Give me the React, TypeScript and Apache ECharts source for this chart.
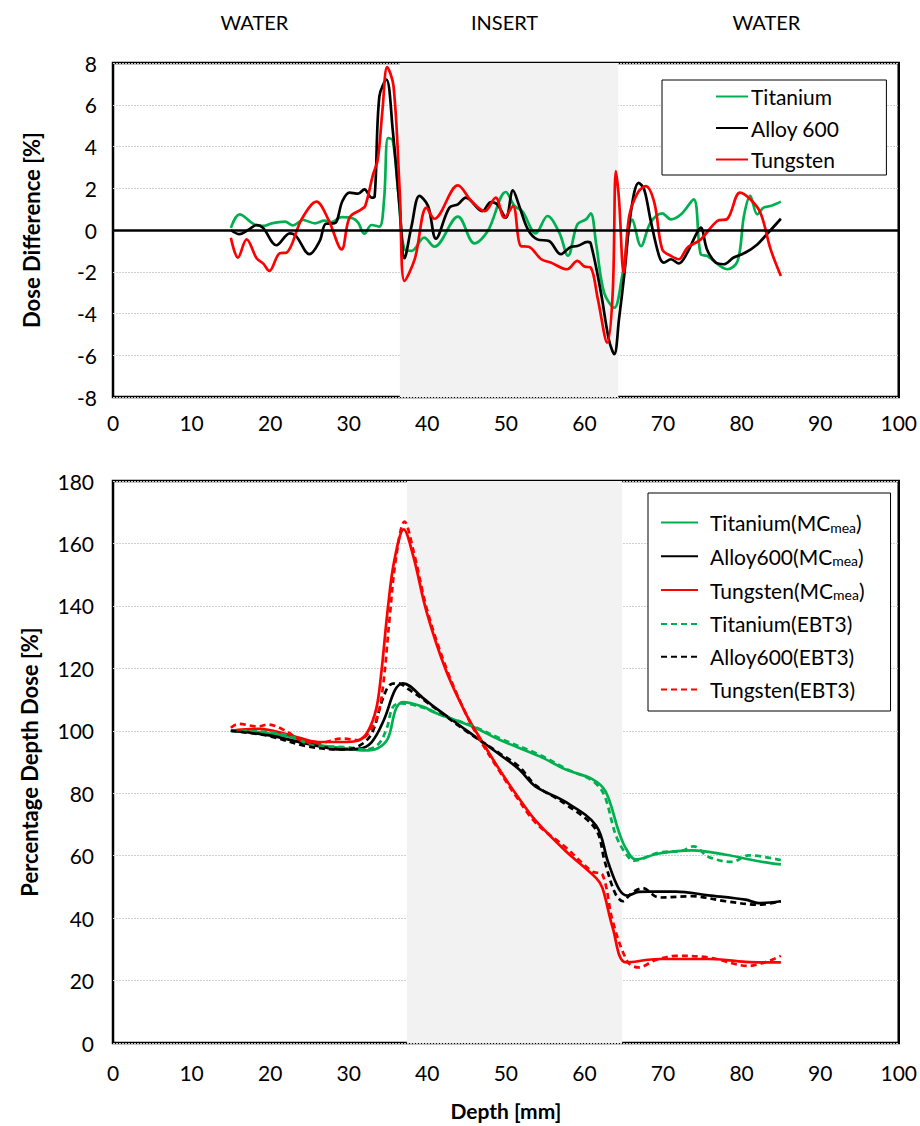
import React, { useEffect, useRef } from "react";
import * as echarts from "echarts";

// ---------- Data (depth mm, value) ----------
const xTicks = [0, 10, 20, 30, 40, 50, 60, 70, 80, 90, 100];
const regionLabels = ["WATER", "INSERT", "WATER"];
const insertTop = [36.5, 64.3];
const insertBottom = [37.4, 64.8];

const titaniumDiff = [
  [15.0, 0.1], [16.1, 0.75], [18.0, 0.27], [19.3, 0.2], [20.2, 0.32], [21.9, 0.4], [22.9, 0.22],
  [24.2, 0.48], [25.7, 0.32], [26.9, 0.45], [27.8, 0.38], [29.1, 0.62], [30.5, 0.56], [31.2, 0.35],
  [32.0, -0.18], [32.9, 0.24], [33.9, 0.16], [34.5, 1.47], [35.0, 4.4], [35.6, 4.3], [36.3, 1.8],
  [37.1, -0.93], [38.0, -1.0], [39.6, -0.37], [40.9, -0.8], [43.9, 0.64], [46.0, -0.64], [47.7, -0.05],
  [50.0, 1.82], [51.1, 1.15], [52.1, 0.9], [53.8, -0.16], [55.3, 0.67], [56.8, -0.13], [57.9, -1.24],
  [59.1, 0.27], [60.2, 0.51], [60.8, 0.8], [61.5, -0.69], [62.5, -3.0], [63.8, -3.72], [64.8, -2.2],
  [66.1, 0.5], [67.2, -0.77], [68.4, 0.35], [69.9, 0.8], [71.0, 0.51], [72.3, 0.75], [73.9, 1.47],
  [74.8, -1.16], [75.6, -1.24], [78.2, -1.88], [79.5, -1.48], [80.3, 0.67], [81.1, 1.63], [82.0, 0.75],
  [82.8, 1.07], [83.7, 1.15], [85.0, 1.36]
];
const alloyDiff = [
  [15.0, 0], [16.1, -0.2], [17.2, 0], [18.3, 0.24], [19.1, 0.1], [20.8, -0.73], [22.5, -0.16],
  [23.3, -0.29], [25.0, -1.16], [26.3, -0.53], [27.1, 0.3], [28.2, 0.32], [29.2, 1.39], [30.1, 1.79],
  [31.2, 1.74], [32.0, 1.95], [32.9, 1.55], [33.3, 1.6], [33.9, 6.4], [34.8, 7.2], [35.6, 4.8],
  [36.5, 1.0], [37.1, -1.35], [38.0, 0.19], [39.0, 1.63], [40.1, 1.15], [41.1, -0.41], [42.8, 1.07],
  [43.9, 1.23], [44.9, 1.55], [47.0, 0.9], [48.1, 1.34], [48.9, 1.23], [50.0, 0.59], [50.9, 1.9],
  [51.7, 1.15], [52.8, 0.03], [54.0, -0.45], [55.5, -0.53], [57.0, -1.16], [58.3, -0.8], [59.1, -0.77],
  [60.4, -0.57], [60.8, -0.64], [62.1, -3.0], [63.1, -5.23], [63.8, -5.95], [64.4, -4.27], [65.1, -2.04],
  [65.9, 0.83], [66.9, 2.26], [67.6, 1.95], [68.4, 0.51], [69.5, -1.24], [70.1, -1.56], [71.0, -1.4],
  [72.0, -1.6], [73.1, -1.08], [74.1, -0.29], [74.8, 0.11], [75.6, -0.93], [76.7, -1.56], [77.7, -1.64],
  [79.0, -1.32], [80.5, -1.08], [82.0, -0.69], [83.2, -0.21], [85.0, 0.54]
];
const tungstenDiff = [
  [15.0, -0.37], [15.9, -1.32], [17.0, -0.45], [18.3, -1.37], [19.1, -1.6], [19.9, -1.96], [21.2, -1.12],
  [22.1, -1.08], [24.0, 0.51], [25.9, 1.36], [27.4, 0.51], [29.1, -0.93], [30.1, 0.59], [31.6, 0.99],
  [32.1, 1.15], [33.1, 2.66], [33.7, 3.38], [34.3, 5.77], [34.9, 7.8], [35.7, 6.9], [36.5, 1.79],
  [37.1, -2.44], [38.4, -1.4], [39.9, 1.07], [40.9, 0.54], [43.9, 2.14], [45.6, 1.39], [47.3, 0.9],
  [48.7, 1.55], [49.8, 0.59], [50.9, 1.15], [51.9, -0.77], [52.9, -0.8], [54.5, -1.4], [55.7, -1.56],
  [57.8, -1.88], [59.1, -1.48], [60.0, -1.75], [60.8, -1.8], [61.7, -3.3], [62.9, -5.4], [63.6, -3.0],
  [64.0, 2.82], [64.4, 1.47], [65.0, -2.04], [65.7, 0.67], [66.8, 1.79], [67.8, 2.1], [68.9, 1.3],
  [69.9, -0.93], [71.0, -1.24], [72.0, -1.4], [73.1, -0.85], [74.8, -0.45], [76.9, 0.43], [78.2, 0.54],
  [79.8, 1.79], [81.1, 1.47], [82.4, 0.83], [83.7, -0.93], [85.0, -2.2]
];

const titaniumMC = [
  [15, 100], [18.5, 99.5], [22.3, 98.2], [26.1, 95.5], [29.5, 94.4], [32.0, 93.7], [33.7, 94.4],
  [35.0, 97.6], [36.0, 107.0], [36.9, 109.2], [39.6, 107.6], [40.7, 106.1], [45.8, 101.3], [49.2, 97.1],
  [54.3, 91.8], [57.7, 87.5], [61.0, 84.5], [62.7, 80.5], [64.4, 67.5], [65.3, 62.2], [66.5, 58.8],
  [69.5, 60.7], [73.7, 61.7], [78.0, 60.3], [82.2, 58.2], [85.0, 57.2]
];
const titaniumEBT3 = [
  [15, 100], [18.5, 99.8], [22.3, 98.5], [26.1, 95.0], [29.5, 94.8], [32.0, 94.0], [33.7, 95.5],
  [34.8, 100.5], [35.6, 107.5], [36.6, 108.8], [39.6, 107.3], [42.0, 104.8], [45.8, 101.5], [49.2, 97.6],
  [54.3, 92.3], [57.7, 87.8], [61.0, 84.0], [62.5, 79.5], [64.0, 66.5], [65.3, 60.5], [66.3, 58.4],
  [69.5, 61.0], [72.3, 61.5], [73.9, 63.0], [75.8, 59.6], [78.8, 58.0], [80.9, 60.1], [85.0, 58.6]
];
const alloyMC = [
  [15, 100], [19.7, 98.6], [24.8, 95.8], [29.1, 94.0], [31.2, 94.2], [32.9, 96.3], [34.5, 103.6],
  [35.9, 113.1], [36.9, 115.2], [39.6, 110.2], [40.7, 108.0], [44.9, 100.3], [49.2, 92.4], [51.7, 87.6],
  [53.8, 82.1], [57.6, 77.2], [61.5, 69.6], [63.0, 58.0], [64.4, 49.3], [65.5, 47.2], [66.9, 48.4],
  [68.2, 48.5], [71.6, 48.5], [75.8, 47.3], [80.5, 45.9], [82.2, 44.8], [85.0, 45.4]
];
const alloyEBT3 = [
  [15, 100], [19.7, 98.4], [24.8, 95.0], [29.1, 94.0], [31.2, 95.0], [32.9, 99.0], [34.3, 110.0],
  [35.3, 114.8], [36.3, 115.2], [37.5, 113.5], [39.6, 109.8], [44.9, 100.0], [49.2, 92.8], [51.7, 88.5],
  [53.8, 82.5], [57.6, 76.5], [61.4, 68.6], [62.6, 58.0], [63.9, 48.0], [64.9, 45.4], [66.0, 48.0],
  [67.4, 49.6], [69.5, 46.6], [73.7, 47.0], [78.0, 45.4], [82.2, 44.3], [85.0, 45.4]
];
const tungstenMC = [
  [15, 100], [18.5, 100.6], [22.7, 98.5], [26.1, 96.4], [29.1, 96.4], [31.2, 96.9], [32.4, 99.6],
  [33.5, 107], [34.1, 117.5], [35.0, 139.7], [35.8, 154.5], [37.0, 164.5], [38.2, 156.1], [39.9, 138.2],
  [42.4, 119.2], [44.9, 105.5], [46.6, 98.1], [49.2, 87.5], [51.3, 79.7], [53.8, 71.2], [57.6, 61.5],
  [61.5, 52.8], [62.3, 49.6], [63.6, 36.9], [65.3, 25.8], [69.5, 26.9], [75.8, 26.9], [80.5, 26.0],
  [85.0, 25.8]
];
const tungstenEBT3 = [
  [15, 101], [15.9, 102.2], [18.5, 101.4], [19.7, 102], [21.5, 100.6], [24.5, 96.4], [26.1, 96.0],
  [29.1, 97.5], [31.2, 97.0], [32.6, 99.5], [33.7, 105], [34.4, 115], [35.2, 136], [36.0, 155],
  [37.1, 167], [38.3, 157], [40.0, 138.5], [42.5, 119.5], [45.0, 105.0], [46.6, 97.5], [49.2, 87.0],
  [51.3, 79.0], [53.8, 70.5], [57.6, 62.7], [61.0, 54.9], [62.3, 53.9], [63.6, 39.0], [65.5, 26.0],
  [66.9, 24.2], [69.0, 26.5], [71.6, 27.9], [75.8, 27.4], [80.9, 24.7], [85.0, 27.9]
];

const GREEN = "#00b050";
const BLACK = "#000000";
const RED = "#ff0000";
const FONT = "Lato";

export default function App() {
  const ref = useRef<HTMLDivElement>(null);
  useEffect(() => {
    if (!ref.current) return;
    const chart = echarts.init(ref.current, undefined, { renderer: "svg" });
    const axisLabel = (margin: number) => ({ color: "#000", fontSize: 21, fontFamily: FONT, margin });
    const splitLine = { show: true, lineStyle: { color: "#cfcfcf", type: [2, 1] as any, width: 1 } };
    const line = (name: string, data: number[][], color: string, idx: number, dashed = false, extra: any = {}) => ({
      name,
      type: "line",
      xAxisIndex: idx,
      yAxisIndex: idx,
      data,
      smooth: 0.35,
      symbol: "none",
      lineStyle: { color, width: 2.7, type: dashed ? [6, 4] : "solid" },
      itemStyle: { color },
      ...extra,
    });
    const sub = (base: string) => `{p|${base}(MC}{s|mea}{b|)}`;
    const option: any = {
      animation: false,
      textStyle: { fontFamily: FONT },
      grid: [
        { left: 113, top: 63, width: 787, height: 334, show: true, borderColor: "#000", borderWidth: 2.5, backgroundColor: "transparent" },
        { left: 113, top: 481, width: 787, height: 569, show: true, borderColor: "#000", borderWidth: 2.5, backgroundColor: "transparent" },
      ],
      xAxis: [0, 1].map((i) => ({
        type: "value",
        gridIndex: i,
        min: 0,
        max: 100,
        interval: 10,
        axisLine: { show: false },
        axisTick: { show: false },
        splitLine: { show: false },
        axisLabel: axisLabel(i === 0 ? 15 : 19),
        name: i === 1 ? "Depth [mm]" : "",
        nameLocation: "middle",
        nameGap: 57,
        nameTextStyle: { color: "#000", fontSize: 21, fontWeight: "bold", fontFamily: FONT },
      })),
      yAxis: [
        {
          type: "value", gridIndex: 0, min: -8, max: 8, interval: 2,
          axisLine: { show: false }, axisTick: { show: false }, splitLine,
          axisLabel: axisLabel(16),
          name: "Dose Difference [%]", nameLocation: "middle", nameGap: 71,
          nameTextStyle: { color: "#000", fontSize: 22, fontWeight: "bold", fontFamily: FONT },
        },
        {
          type: "value", gridIndex: 1, min: 0, max: 180, interval: 20,
          axisLine: { show: false }, axisTick: { show: false }, splitLine,
          axisLabel: axisLabel(19),
          name: "Percentage Depth Dose [%]", nameLocation: "middle", nameGap: 73,
          nameTextStyle: { color: "#000", fontSize: 22, fontWeight: "bold", fontFamily: FONT },
        },
      ],
      legend: [
        {
          data: ["Titanium", "Alloy 600", "Tungsten"],
          left: 662, top: 80, orient: "vertical",
          backgroundColor: "#fff", borderColor: "#000", borderWidth: 1,
          padding: [6, 47, 5, 53], itemGap: 10.5, itemWidth: 32, itemHeight: 18,
          selectedMode: false,
          itemStyle: { opacity: 0 },
          textStyle: { color: "#000", fontSize: 21, fontFamily: FONT, padding: [0, 0, 0, -2] },
        },
        {
          data: ["Titanium(MCmea)", "Alloy600(MCmea)", "Tungsten(MCmea)", "Titanium(EBT3)", "Alloy600(EBT3)", "Tungsten(EBT3)"],
          left: 648, top: 493, orient: "vertical",
          backgroundColor: "#fff", borderColor: "#000", borderWidth: 1,
          padding: [19, 26, 11, 12], itemGap: 11.8, itemWidth: 37, itemHeight: 18,
          selectedMode: false,
          itemStyle: { opacity: 0 },
          formatter: (n: string) => {
            if (n.endsWith("(MCmea)")) return sub(n.replace("(MCmea)", ""));
            return `{p|${n}}`;
          },
          textStyle: {
            color: "#000", fontSize: 21, fontFamily: FONT,
            rich: {
              p: { fontSize: 21, fontFamily: FONT, color: "#000", padding: [0, 0, 0, 7] },
              b: { fontSize: 21, fontFamily: FONT, color: "#000" },
              s: { fontSize: 14, fontFamily: FONT, color: "#000", verticalAlign: "bottom", padding: [9, 0, 0, 0] },
            },
          },
        },
      ],
      graphic: regionLabels.map((t, i) => ({
        type: "text",
        left: [253, 510, 765][i] - (t.length * 13) / 2,
        top: 12,
        style: { text: t, fontSize: 20, fontFamily: FONT, fill: "#000" },
      })),
      series: [
        line("Titanium", titaniumDiff, GREEN, 0, false, {
          markArea: {
            silent: true,
            itemStyle: { color: "#f2f2f2" },
            data: [[{ xAxis: insertTop[0] }, { xAxis: insertTop[1] }]],
          },
          markLine: {
            silent: true, symbol: "none", label: { show: false },
            lineStyle: { color: "#000", width: 2.5, type: "solid" },
            data: [{ yAxis: 0 }],
          },
        }),
        line("Alloy 600", alloyDiff, BLACK, 0),
        line("Tungsten", tungstenDiff, RED, 0),
        line("Titanium(MCmea)", titaniumMC, GREEN, 1, false, {
          markArea: {
            silent: true,
            itemStyle: { color: "#f2f2f2" },
            data: [[{ xAxis: insertBottom[0] }, { xAxis: insertBottom[1] }]],
          },
        }),
        line("Alloy600(MCmea)", alloyMC, BLACK, 1),
        line("Tungsten(MCmea)", tungstenMC, RED, 1),
        line("Titanium(EBT3)", titaniumEBT3, GREEN, 1, true),
        line("Alloy600(EBT3)", alloyEBT3, BLACK, 1, true),
        line("Tungsten(EBT3)", tungstenEBT3, RED, 1, true),
      ],
    };
    chart.setOption(option);
    return () => chart.dispose();
  }, []);
  return <div ref={ref} style={{ position: "absolute", left: 0, top: 0, width: 920, height: 1126 }} />;
}
